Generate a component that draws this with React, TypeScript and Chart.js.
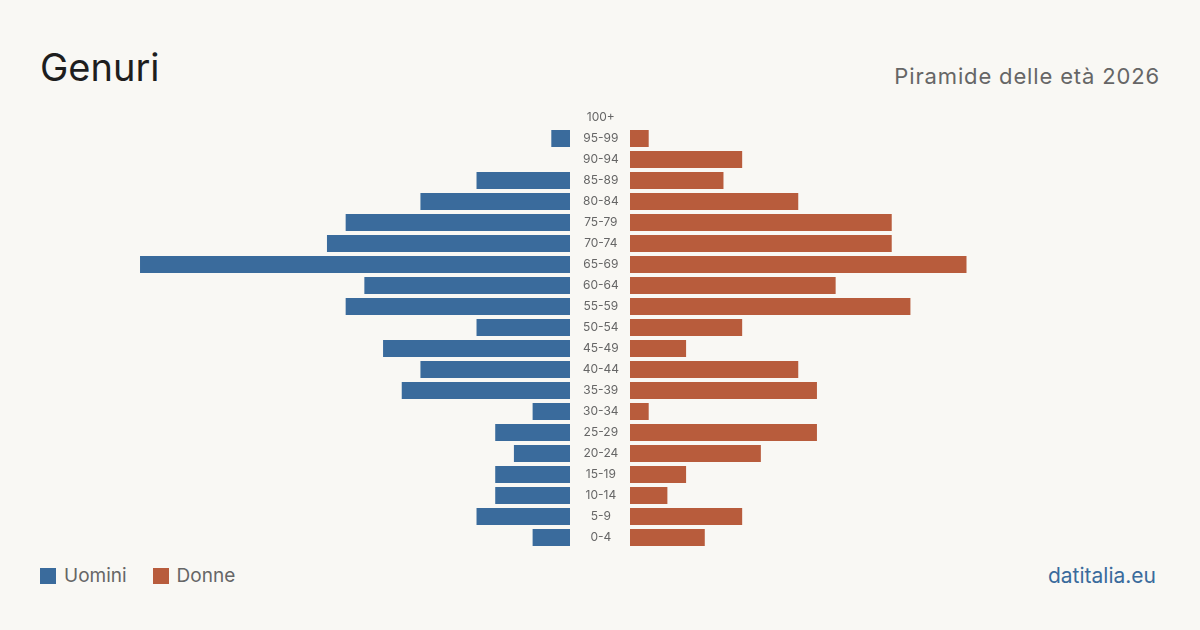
import React, { useEffect, useRef } from "react";
import { Chart, registerables } from "chart.js";

Chart.register(...registerables);

const ageGroups = ["100+", "95-99", "90-94", "85-89", "80-84", "75-79", "70-74", "65-69", "60-64", "55-59", "50-54", "45-49", "40-44", "35-39", "30-34", "25-29", "20-24", "15-19", "10-14", "5-9", "0-4"];
const men = [0, 1, 0, 5, 8, 12, 13, 23, 11, 12, 5, 10, 8, 9, 2, 4, 3, 4, 4, 5, 2];
const women = [0, 1, 6, 5, 9, 14, 14, 18, 11, 15, 6, 3, 9, 10, 1, 10, 7, 3, 2, 6, 4];
const scaleMax = 28.35;

const BLUE = "#3a6b9c";
const ORANGE = "#b85c3c";
const BG = "#f9f8f4";
const FONT = "Inter, 'Noto Sans', sans-serif";

export default function App() {
  const leftRef = useRef<HTMLCanvasElement>(null);
  const rightRef = useRef<HTMLCanvasElement>(null);

  useEffect(() => {
    document.body.style.margin = "0";
    document.body.style.background = BG;
    Chart.defaults.font.family = FONT;
    const left = new Chart(leftRef.current!, {
      type: "bar",
      data: {
        labels: ageGroups,
        datasets: [{ label: "Uomini", data: men, backgroundColor: BLUE, barPercentage: 0.81, categoryPercentage: 1 }],
      },
      options: {
        indexAxis: "y",
        animation: false,
        responsive: false,
        maintainAspectRatio: false,
        layout: { padding: 0 },
        plugins: { legend: { display: false }, tooltip: { enabled: false } },
        scales: {
          x: { display: false, reverse: true, min: 0, max: scaleMax },
          y: { display: false },
        },
      },
    });
    const right = new Chart(rightRef.current!, {
      type: "bar",
      data: {
        labels: ageGroups,
        datasets: [{ label: "Donne", data: women, backgroundColor: ORANGE, barPercentage: 0.81, categoryPercentage: 1 }],
      },
      options: {
        indexAxis: "y",
        animation: false,
        responsive: false,
        maintainAspectRatio: false,
        layout: { padding: 0 },
        plugins: { legend: { display: false }, tooltip: { enabled: false } },
        scales: {
          x: { display: false, min: 0, max: scaleMax },
          y: {
            position: "left",
            grid: { display: false },
            border: { display: false },
            ticks: { crossAlign: "center", padding: 3, color: "#666", font: { size: 12, family: FONT } },
            afterFit: (s: any) => {
              s.width = 60;
              s.paddingTop = 0;
              s.paddingBottom = 0;
            },
          },
        },
      },
    });
    return () => {
      left.destroy();
      right.destroy();
    };
  }, []);

  return (
    <div style={{ position: "relative", width: 1200, height: 630, background: BG, fontFamily: FONT, overflow: "hidden" }}>
      <div style={{ position: "absolute", left: 40, top: 43, fontSize: 38, color: "#1e1e1e", lineHeight: "48px" }}>Genuri</div>
      <div style={{ position: "absolute", right: 40, top: 62, fontSize: 22, color: "#666", lineHeight: "28px", letterSpacing: 0.85 }}>Piramide delle età 2026</div>
      <canvas ref={leftRef} width={530} height={441} style={{ position: "absolute", left: 40, top: 106.5, width: 530, height: 441 }} />
      <canvas ref={rightRef} width={590} height={441} style={{ position: "absolute", left: 570, top: 106.5, width: 590, height: 441 }} />
      <div style={{ position: "absolute", left: 40, top: 566, display: "flex", alignItems: "center", fontSize: 19, color: "#666", lineHeight: "20px" }}>
        <span style={{ display: "inline-block", width: 16, height: 16, background: BLUE, marginRight: 8 }} />
        <span>Uomini</span>
        <span style={{ display: "inline-block", width: 16, height: 16, background: ORANGE, marginLeft: 26, marginRight: 8 }} />
        <span>Donne</span>
      </div>
      <div style={{ position: "absolute", right: 44, top: 564, fontSize: 21, color: BLUE, lineHeight: "24px" }}>datitalia.eu</div>
    </div>
  );
}
